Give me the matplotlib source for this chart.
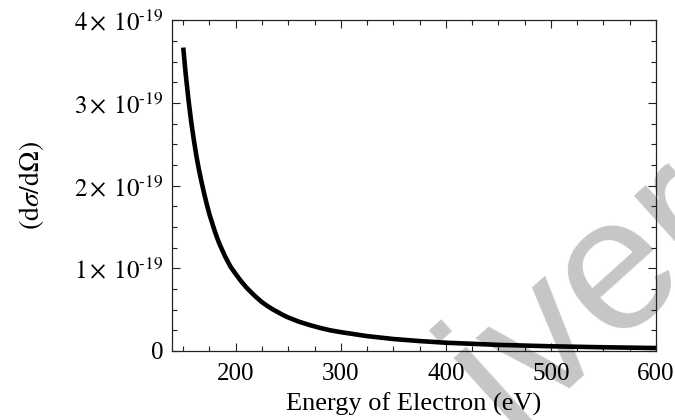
"""
Differential cross section vs electron energy
"""

import matplotlib
matplotlib.use('Agg')
import matplotlib.pyplot as plt
from matplotlib.ticker import FixedLocator, FuncFormatter

plt.rcParams['font.family'] = ['Liberation Serif', 'DejaVu Serif']
plt.rcParams['mathtext.fontset'] = 'stix'

# values (x in eV, y in units of 1e-19)
energy_ev = [150, 152.5, 155, 157.5, 160, 162.5, 165, 167.5, 170, 172.5,
             175, 177.5, 180, 182.5, 185, 187.5, 190, 192.5, 195, 197.5,
             200, 205, 210, 215, 220, 225, 230, 235, 240, 245, 250, 260,
             270, 280, 290, 300, 325, 350, 375, 400, 450, 500, 550, 600]
dsigma = [3.67, 3.33, 3.04, 2.78, 2.56, 2.36, 2.19, 2.04, 1.90, 1.77,
          1.65, 1.55, 1.45, 1.36, 1.28, 1.21, 1.14, 1.08, 1.02, 0.975,
          0.93, 0.845, 0.77, 0.705, 0.645, 0.59, 0.545, 0.505, 0.47, 0.435,
          0.405, 0.355, 0.315, 0.28, 0.25, 0.228, 0.18, 0.145, 0.12, 0.10,
          0.074, 0.057, 0.045, 0.036]

x_major = [200, 300, 400, 500, 600]
y_major = [0, 1, 2, 3, 4]


def ylabel_fmt(v, pos):
    k = int(round(v / 1e-19))
    if k == 0:
        return '0'
    return r'$%d\,{\times}\;\,10^{\text{-}19}$' % k


fig = plt.figure(figsize=(6.75, 4.2), dpi=100)
ax = fig.add_axes([0.2548, 0.1643, 0.7171, 0.7874])
ax.patch.set_alpha(0)

# watermark behind the plot
fig.text(0.752, -0.03, 'iver', fontsize=137, color='#c6c6c6',
         family='Liberation Sans', rotation=42, rotation_mode='anchor',
         ha='left', va='baseline', zorder=-5)

ax.plot(energy_ev, [v * 1e-19 for v in dsigma], color='black', lw=3.3,
        solid_capstyle='butt', zorder=3)

ax.set_xlim(139.3, 600)
ax.set_ylim(0, 4e-19)

ax.xaxis.set_major_locator(FixedLocator(x_major))
ax.xaxis.set_minor_locator(FixedLocator([150 + 25 * i for i in range(19)]))
ax.yaxis.set_major_locator(FixedLocator([v * 1e-19 for v in y_major]))
ax.yaxis.set_minor_locator(FixedLocator([0.25e-19 * i for i in range(17)]))
ax.yaxis.set_major_formatter(FuncFormatter(ylabel_fmt))

for side in ['left', 'right', 'top', 'bottom']:
    ax.spines[side].set_linewidth(0.9)
    ax.spines[side].set_color('#222222')

ax.tick_params(which='both', direction='in', top=True, right=True,
               color='#222222', width=0.8)
ax.tick_params(which='major', length=6, labelsize=18)
ax.tick_params(axis='x', which='major', pad=9)
ax.tick_params(axis='y', which='major', pad=6)
ax.tick_params(which='minor', length=3.5)

ax.set_xlabel('Energy of Electron (eV)', fontsize=19, labelpad=5)
ax.set_ylabel(r'$(\mathrm{d}\sigma/\mathrm{d}\Omega)$', fontsize=20, labelpad=20)

plt.savefig('out.png', dpi=100)
